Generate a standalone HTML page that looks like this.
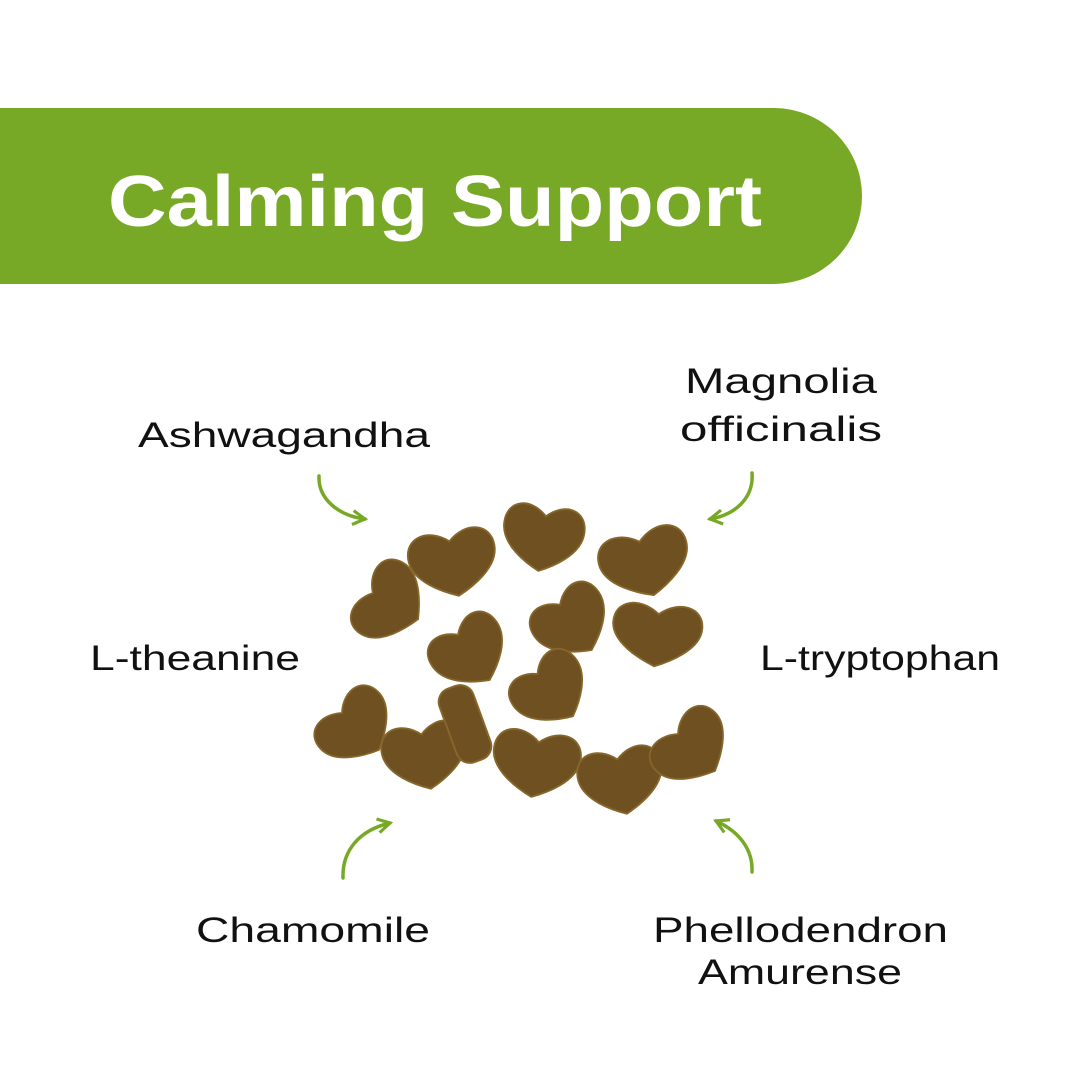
<!DOCTYPE html>
<html><head><meta charset="utf-8"><style>
html,body{margin:0;padding:0;background:#fff;}
svg{display:block;}
text{font-family:"Liberation Sans",sans-serif;}
</style></head><body>
<svg width="1080" height="1080" viewBox="0 0 1080 1080" xmlns="http://www.w3.org/2000/svg">
<defs>
<path id="h" d="M0,36 C-14,30 -46,14 -46,-10 C-46,-34 -20,-40 0,-22 C20,-40 46,-34 46,-10 C46,14 14,30 0,36Z"/>
<marker id="a" viewBox="0 0 10 10" refX="8" refY="5" markerWidth="5" markerHeight="5" orient="auto"><path d="M1,1 L8,5 L1,9" fill="none" stroke="#78a926" stroke-width="1.8"/></marker>
</defs>
<path d="M0,108 H774 A88,88 0 0 1 774,284 H0 Z" fill="#78a926"/>
<text x="108" y="226" font-size="72" font-weight="bold" fill="#fff" textLength="654" lengthAdjust="spacingAndGlyphs">Calming Support</text>
<g font-size="35" fill="#111">
<text x="138" y="447" textLength="292" lengthAdjust="spacingAndGlyphs">Ashwagandha</text>
<text x="685" y="393" textLength="192" lengthAdjust="spacingAndGlyphs">Magnolia</text>
<text x="680" y="441" textLength="202" lengthAdjust="spacingAndGlyphs">officinalis</text>
<text x="90" y="670" textLength="210" lengthAdjust="spacingAndGlyphs">L-theanine</text>
<text x="760" y="670" textLength="240" lengthAdjust="spacingAndGlyphs">L-tryptophan</text>
<text x="196" y="942" textLength="234" lengthAdjust="spacingAndGlyphs">Chamomile</text>
<text x="653" y="942" textLength="295" lengthAdjust="spacingAndGlyphs">Phellodendron</text>
<text x="698" y="984" textLength="204" lengthAdjust="spacingAndGlyphs">Amurense</text>
</g>
<g fill="none" stroke="#78a926" stroke-width="3.5" stroke-linecap="round" marker-end="url(#a)">
<path d="M319,476 C318,500 340,516 365,519"/>
<path d="M752,473 C754,498 735,515 710,519"/>
<path d="M343,878 C342,850 360,830 390,823"/>
<path d="M752,872 C753,850 740,832 716,821"/>
</g>
<g fill="#6f5121" stroke="#86662a" stroke-width="2">
<use href="#h" transform="translate(453,562) rotate(-10) scale(0.95,0.95)"/>
<use href="#h" transform="translate(543,537) rotate(8) scale(0.88,0.95)"/>
<use href="#h" transform="translate(645,562) rotate(-15) scale(0.98,0.95)"/>
<use href="#h" transform="translate(390,603) rotate(-60) scale(0.9,0.9)"/>
<use href="#h" transform="translate(470,652) rotate(-35) scale(0.85,0.95)"/>
<use href="#h" transform="translate(572,622) rotate(-35) scale(0.85,0.95)"/>
<use href="#h" transform="translate(657,634) rotate(5) scale(0.97,0.9)"/>
<use href="#h" transform="translate(551,690) rotate(-40) scale(0.85,0.95)"/>
<use href="#h" transform="translate(356,727) rotate(-45) scale(0.88,0.9)"/>
<use href="#h" transform="translate(425,755) rotate(-10) scale(0.92,0.95)"/>
<rect x="447" y="685" width="36" height="78" rx="14" transform="rotate(-20 465 724)"/>
<use href="#h" transform="translate(536,763) rotate(8) scale(0.95,0.95)"/>
<use href="#h" transform="translate(621,780) rotate(-10) scale(0.92,0.95)"/>
<use href="#h" transform="translate(692,748) rotate(-45) scale(0.9,0.9)"/>
</g>
</svg>
</body></html>
